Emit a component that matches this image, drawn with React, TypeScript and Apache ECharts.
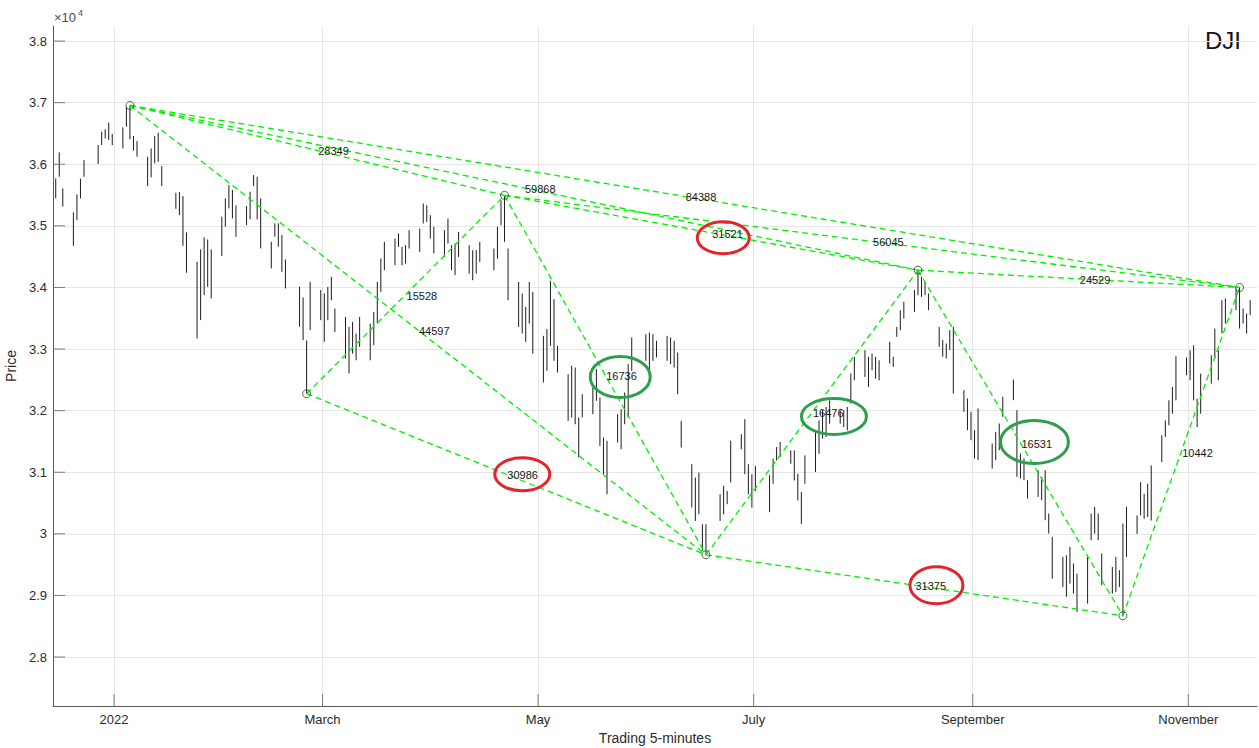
import React, { useEffect, useRef } from 'react';
import * as echarts from 'echarts';

// ---------------- data ----------------
const tradeDates = [
  '2021-12-15','2021-12-16','2021-12-17','2021-12-20','2021-12-21','2021-12-22','2021-12-23','2021-12-27','2021-12-28','2021-12-29','2021-12-30','2021-12-31',
  '2022-01-03','2022-01-04','2022-01-05','2022-01-06','2022-01-07','2022-01-10','2022-01-11','2022-01-12','2022-01-13','2022-01-14','2022-01-18','2022-01-19','2022-01-20','2022-01-21','2022-01-24','2022-01-25','2022-01-26','2022-01-27','2022-01-28','2022-01-31',
  '2022-02-01','2022-02-02','2022-02-03','2022-02-04','2022-02-07','2022-02-08','2022-02-09','2022-02-10','2022-02-11','2022-02-14','2022-02-15','2022-02-16','2022-02-17','2022-02-18','2022-02-22','2022-02-23','2022-02-24','2022-02-25','2022-02-28',
  '2022-03-01','2022-03-02','2022-03-03','2022-03-04','2022-03-07','2022-03-08','2022-03-09','2022-03-10','2022-03-11','2022-03-14','2022-03-15','2022-03-16','2022-03-17','2022-03-18','2022-03-21','2022-03-22','2022-03-23','2022-03-24','2022-03-25','2022-03-28','2022-03-29','2022-03-30','2022-03-31',
  '2022-04-01','2022-04-04','2022-04-05','2022-04-06','2022-04-07','2022-04-08','2022-04-11','2022-04-12','2022-04-13','2022-04-14','2022-04-18','2022-04-19','2022-04-20','2022-04-21','2022-04-22','2022-04-25','2022-04-26','2022-04-27','2022-04-28','2022-04-29',
  '2022-05-02','2022-05-03','2022-05-04','2022-05-05','2022-05-06','2022-05-09','2022-05-10','2022-05-11','2022-05-12','2022-05-13','2022-05-16','2022-05-17','2022-05-18','2022-05-19','2022-05-20','2022-05-23','2022-05-24','2022-05-25','2022-05-26','2022-05-27','2022-05-31',
  '2022-06-01','2022-06-02','2022-06-03','2022-06-06','2022-06-07','2022-06-08','2022-06-09','2022-06-10','2022-06-13','2022-06-14','2022-06-15','2022-06-16','2022-06-17','2022-06-21','2022-06-22','2022-06-23','2022-06-24','2022-06-27','2022-06-28','2022-06-29','2022-06-30',
  '2022-07-01','2022-07-05','2022-07-06','2022-07-07','2022-07-08','2022-07-11','2022-07-12','2022-07-13','2022-07-14','2022-07-15','2022-07-18','2022-07-19','2022-07-20','2022-07-21','2022-07-22','2022-07-25','2022-07-26','2022-07-27','2022-07-28','2022-07-29',
  '2022-08-01','2022-08-02','2022-08-03','2022-08-04','2022-08-05','2022-08-08','2022-08-09','2022-08-10','2022-08-11','2022-08-12','2022-08-15','2022-08-16','2022-08-17','2022-08-18','2022-08-19','2022-08-22','2022-08-23','2022-08-24','2022-08-25','2022-08-26','2022-08-29','2022-08-30','2022-08-31',
  '2022-09-01','2022-09-02','2022-09-06','2022-09-07','2022-09-08','2022-09-09','2022-09-12','2022-09-13','2022-09-14','2022-09-15','2022-09-16','2022-09-19','2022-09-20','2022-09-21','2022-09-22','2022-09-23','2022-09-26','2022-09-27','2022-09-28','2022-09-29','2022-09-30',
  '2022-10-03','2022-10-04','2022-10-05','2022-10-06','2022-10-07','2022-10-10','2022-10-11','2022-10-12','2022-10-13','2022-10-14','2022-10-17','2022-10-18','2022-10-19','2022-10-20','2022-10-21','2022-10-24','2022-10-25','2022-10-26','2022-10-27','2022-10-28','2022-10-31',
  '2022-11-01','2022-11-02','2022-11-03','2022-11-04','2022-11-07','2022-11-08','2022-11-09','2022-11-10','2022-11-11','2022-11-14','2022-11-15','2022-11-16','2022-11-17','2022-11-18',
];

const dayLows = [
  35446,35798,35311,34677,35094,35446,35798,36004,36312,36421,36394,36312,
  36258,36610,36404,36220,36123,35647,35787,36015,36042,35647,35278,35175,34677,34239,33172,33470,33876,34011,33822,34510,
  34986,35284,35121,34824,35013,35105,35647,35105,34634,34309,34824,34661,34255,33984,33362,33145,32275,33308,33470,
  33118,33468,33793,33278,32845,32602,32926,32818,33035,32818,33062,33414,33928,34280,34361,34659,34361,34388,34632,34578,35038,35065,34794,
  34551,34496,34713,34280,34199,34496,34226,34118,34226,34415,34280,34469,35011,34740,33793,33360,33251,33116,33414,32926,
  32457,32647,33053,32809,32619,31834,31889,31780,31239,31889,31943,32160,31428,30968,30643,31483,31374,31780,31889,32647,32809,
  32647,32809,32863,32809,32755,32701,32268,31401,30427,30210,30318,29723,29660,30210,30318,30481,30833,31374,30968,30643,30427,
  30697,30352,30813,31192,31247,31138,30867,30542,30163,30813,31003,31301,31545,31572,31789,31789,31734,31680,32114,32493,
  32547,32385,32656,32520,32493,32764,32710,33198,33306,33496,33604,33875,33848,33875,33631,33036,32874,32847,32982,32278,31981,31683,31520,
  31223,31196,31060,31196,31358,31899,32170,30925,30898,30871,30573,30600,30546,30221,30004,29273,29138,28976,29192,29030,28732,
  28868,29896,30004,29896,29165,29030,29057,29138,28670,29626,30000,30298,30244,30271,30217,31165,31572,31762,31951,32168,32575,
  32493,32168,31734,31951,32439,32846,32493,33252,33415,33631,33333,33415,33252,33550,
];

const dayHighs = [
  35771,36193,35609,35219,35511,35766,36069,36312,36529,36567,36675,36491,
  36599,36935,36955,36459,36377,36123,36258,36459,36513,35971,35538,35549,35484,34894,34418,34618,34813,34780,34618,35148,
  35446,35663,35582,35332,35322,35554,35825,35798,35446,34742,35040,35040,34851,34455,34011,33838,33141,34093,33957,
  33903,34009,34172,33657,33522,33360,33441,33251,33522,33414,33603,34090,34469,34740,34794,34875,34659,34686,34930,34957,35363,35336,35173,
  34984,34930,35119,34686,34713,34903,34686,34605,34605,34740,34632,34984,35417,35495,34632,34090,33901,33684,34090,33928,
  33215,33323,34108,33811,33053,32592,32728,32700,31889,32268,32376,32674,32213,31564,31510,31943,32024,32295,32755,33188,33242,
  33269,33242,33134,33215,33188,33134,32944,31834,31131,30914,30995,30156,30156,30643,30779,30697,31510,31618,31861,31131,30968,
  31103,30949,31220,31409,31491,31355,31355,30976,30678,31274,31653,31843,32005,32060,32168,32005,32005,32060,32602,32873,
  32981,32873,32927,32873,32818,33117,32873,33360,33631,33767,33957,34281,34173,34092,33902,33361,33145,33090,33307,33361,32332,32197,31981,
  31683,32035,31466,31656,31791,32224,32506,32008,31304,31223,30871,31033,30925,31033,30329,29950,29626,29653,29788,29517,29355,
  29626,30329,30437,30329,29680,29463,29626,29409,30167,30437,30298,30840,30650,30813,31111,31599,31843,32168,32385,32883,32862,
  32981,33062,32195,32602,32900,33333,32981,33794,33821,33980,34000,33659,33577,33794,
];

// turning points (circles) and the dashed links between them
const pivotDates = ['2022-01-05', '2022-02-24', '2022-04-21', '2022-06-17', '2022-08-16', '2022-10-13', '2022-11-15'];
const pivotPrices = [36955, 32275, 35495, 29660, 34281, 28670, 34000];

const linkPairs = [
  [0, 2], [0, 3], [0, 4], [0, 6], [1, 2], [1, 3], [2, 3],
  [2, 4], [2, 6], [3, 4], [3, 5], [4, 5], [4, 6], [5, 6],
];
const linkLabels = [
  '28349', '44597', '59868', '84388', '15528', '30986', '16736',
  '31521', '56045', '16476', '31375', '16531', '24529', '10442',
];

// axis ticks
const xTickDates = ['2022-01-01', '2022-03-01', '2022-05-01', '2022-07-01', '2022-09-01', '2022-11-01'];
const xTickLabels = ['2022', 'March', 'May', 'July', 'September', 'November'];
const yTickValues = [28000, 29000, 30000, 31000, 32000, 33000, 34000, 35000, 36000, 37000, 38000];
const yTickLabels = ['2.8', '2.9', '3', '3.1', '3.2', '3.3', '3.4', '3.5', '3.6', '3.7', '3.8'];

const xAxisTitle = 'Trading 5-minutes';
const yAxisTitle = 'Price';
const chartTag = 'DJI';

// ---------------- styling / annotation config ----------------
const FONT = "'Liberation Sans', Arial, Helvetica, sans-serif";
const RED = '#e4232b';
const GREEN = '#2e9e4e';
const TICK_LEN = 12;
const highlights = [
  { link: 7, color: RED, dx: 12, dy: 5, rx: 26, ry: 16 },
  { link: 5, color: RED, dx: 16, dy: 0, rx: 27.5, ry: 16.5 },
  { link: 10, color: RED, dx: 22, dy: 0, rx: 26.5, ry: 18.5 },
  { link: 6, color: GREEN, dx: 15, dy: 2, rx: 30, ry: 20.5 },
  { link: 9, color: GREEN, dx: 22, dy: 4, rx: 32.5, ry: 18 },
  { link: 11, color: GREEN, dx: 14, dy: -1, rx: 34, ry: 21.5 },
];

const toTs = (d: string) => Date.parse(d + 'T12:00:00Z');
const tickTs = (d: string) => Date.parse(d + 'T00:00:00Z');
const X_MIN = Date.parse('2021-12-14T17:30:00Z');
const X_MAX = Date.parse('2022-11-20T10:30:00Z');
const Y_MIN = 27205;
const Y_MAX = 38245;

export default function App() {
  const ref = useRef<HTMLDivElement>(null);

  useEffect(() => {
    if (!ref.current) return;
    const chart = echarts.init(ref.current, undefined, { renderer: 'svg' });

    const priceData = tradeDates.map((d, i) => [toTs(d), dayLows[i], dayHighs[i]]);
    const pivotData = pivotDates.map((d, i) => [toTs(d), pivotPrices[i]]);
    const linkData = linkPairs.map(([a, b]) => [
      toTs(pivotDates[a]), pivotPrices[a], toTs(pivotDates[b]), pivotPrices[b],
    ]);
    const labelData = linkData.map((l) => [(l[0] + l[2]) / 2, (l[1] + l[3]) / 2]);
    const ellipseData = highlights.map((h) => labelData[h.link]);
    const xTickValues = xTickDates.map(tickTs);
    const xTickMarks = xTickValues.map((t) => [t, Y_MIN]);
    const yTickMarks = yTickValues.map((v) => [X_MIN, v]);

    const axisColor = '#5a5a5a';
    const tickColor = '#7a7a7a';
    const textColor = '#2b2b2b';

    const option: any = {
      animation: false,
      backgroundColor: '#ffffff',
      textStyle: { fontFamily: FONT },
      grid: { left: 53, right: 2, top: 26, bottom: 42, outerBoundsMode: 'none' },
      xAxis: {
        type: 'value',
        z: 3,
        min: X_MIN,
        max: X_MAX,
        name: xAxisTitle,
        nameLocation: 'middle',
        nameGap: 25,
        nameTextStyle: { fontSize: 14, color: textColor, fontFamily: FONT },
        axisLine: { show: true, lineStyle: { color: axisColor, width: 1 } },
        axisTick: { show: false },
        axisLabel: {
          show: true,
          customValues: xTickValues,
          margin: 7,
          fontSize: 13,
          color: textColor,
          fontFamily: FONT,
          formatter: (v: number) => {
            const i = xTickValues.findIndex((t) => Math.abs(t - v) < 1000);
            return i >= 0 ? xTickLabels[i] : '';
          },
        },
        splitLine: { show: false },
      },
      yAxis: {
        type: 'value',
        z: 3,
        min: Y_MIN,
        max: Y_MAX,
        name: yAxisTitle,
        nameLocation: 'middle',
        nameGap: 23,
        nameTextStyle: { fontSize: 14, color: textColor, fontFamily: FONT },
        axisLine: { show: true, lineStyle: { color: axisColor, width: 1 } },
        axisTick: { show: false },
        axisLabel: {
          show: true,
          customValues: yTickValues,
          margin: 6,
          fontSize: 13,
          color: textColor,
          fontFamily: FONT,
          formatter: (v: number) => {
            const i = yTickValues.findIndex((t) => Math.abs(t - v) < 1);
            return i >= 0 ? yTickLabels[i] : '';
          },
        },
        splitLine: { show: false },
      },
      series: [
        {
          // grid lines at the tick positions
          type: 'line',
          data: [],
          z: 0,
          silent: true,
          markLine: {
            z: 0,
            silent: true,
            symbol: ['none', 'none'],
            label: { show: false },
            emphasis: { disabled: true },
            lineStyle: { color: '#e6e6e6', width: 1, type: 'solid' },
            data: [
              ...xTickValues.map((t) => ({ xAxis: t })),
              ...yTickValues.map((v) => ({ yAxis: v })),
            ],
          },
        },
        {
          // inward tick marks on the x axis
          type: 'custom',
          z: 9,
          silent: true,
          clip: false,
          data: xTickMarks,
          encode: { x: 0, y: 1 },
          renderItem: (_p: any, api: any) => {
            const c = api.coord([api.value(0), api.value(1)]);
            return {
              type: 'line',
              shape: { x1: c[0], y1: c[1], x2: c[0], y2: c[1] - TICK_LEN },
              style: { stroke: tickColor, lineWidth: 1 },
            };
          },
        },
        {
          // inward tick marks on the y axis
          type: 'custom',
          z: 9,
          silent: true,
          clip: false,
          data: yTickMarks,
          encode: { x: 0, y: 1 },
          renderItem: (_p: any, api: any) => {
            const c = api.coord([api.value(0), api.value(1)]);
            return {
              type: 'line',
              shape: { x1: c[0], y1: c[1], x2: c[0] + TICK_LEN, y2: c[1] },
              style: { stroke: tickColor, lineWidth: 1 },
            };
          },
        },
        {
          // intraday ranges
          type: 'custom',
          z: 4,
          silent: true,
          data: priceData,
          encode: { x: 0, y: [1, 2] },
          renderItem: (_p: any, api: any) => {
            const x = api.value(0);
            const a = api.coord([x, api.value(1)]);
            const b = api.coord([x, api.value(2)]);
            return {
              type: 'line',
              shape: { x1: a[0], y1: a[1], x2: b[0], y2: b[1] },
              style: { stroke: '#1c1c1c', lineWidth: 1 },
            };
          },
        },
        {
          // dashed green links
          type: 'custom',
          z: 5,
          silent: true,
          data: linkData,
          encode: { x: [0, 2], y: [1, 3] },
          renderItem: (_p: any, api: any) => {
            const a = api.coord([api.value(0), api.value(1)]);
            const b = api.coord([api.value(2), api.value(3)]);
            return {
              type: 'line',
              shape: { x1: a[0], y1: a[1], x2: b[0], y2: b[1] },
              style: { stroke: '#00f000', lineWidth: 1.3, lineDash: [6, 4] },
            };
          },
        },
        {
          // pivot circles
          type: 'scatter',
          z: 6,
          silent: true,
          data: pivotData,
          symbol: 'circle',
          symbolSize: 8,
          itemStyle: { color: 'rgba(255,255,255,0)', borderColor: '#3a3a3a', borderWidth: 1 },
        },
        {
          // link labels
          type: 'custom',
          z: 7,
          silent: true,
          data: labelData,
          encode: { x: 0, y: 1 },
          renderItem: (p: any, api: any) => {
            const c = api.coord([api.value(0), api.value(1)]);
            return {
              type: 'text',
              x: c[0] + 1,
              y: c[1] + 1,
              style: {
                text: linkLabels[p.dataIndex],
                fill: '#161616',
                fontSize: 11,
                fontFamily: FONT,
                align: 'left',
                verticalAlign: 'middle',
              },
            };
          },
        },
        {
          // highlight ellipses
          type: 'custom',
          z: 8,
          silent: true,
          data: ellipseData,
          encode: { x: 0, y: 1 },
          renderItem: (p: any, api: any) => {
            const h = highlights[p.dataIndex];
            const c = api.coord([api.value(0), api.value(1)]);
            return {
              type: 'ellipse',
              shape: { cx: c[0] + h.dx, cy: c[1] + h.dy, rx: h.rx, ry: h.ry },
              style: { fill: 'none', stroke: h.color, lineWidth: 3 },
            };
          },
        },
      ],
      graphic: [
        {
          type: 'text',
          left: 54,
          top: 11,
          style: { text: '×10', fontSize: 13, fill: '#4a4a4a', fontFamily: FONT },
        },
        {
          type: 'text',
          left: 78,
          top: 8,
          style: { text: '4', fontSize: 9, fill: '#4a4a4a', fontFamily: FONT },
        },
        {
          type: 'text',
          right: 18,
          top: 28,
          style: { text: chartTag, fontSize: 24, fill: '#111', fontFamily: FONT },
        },
      ],
    };

    chart.setOption(option);
    return () => chart.dispose();
  }, []);

  return (
    <div
      ref={ref}
      style={{ position: 'fixed', left: 0, top: 0, width: 1259, height: 748, background: '#fff' }}
    />
  );
}
